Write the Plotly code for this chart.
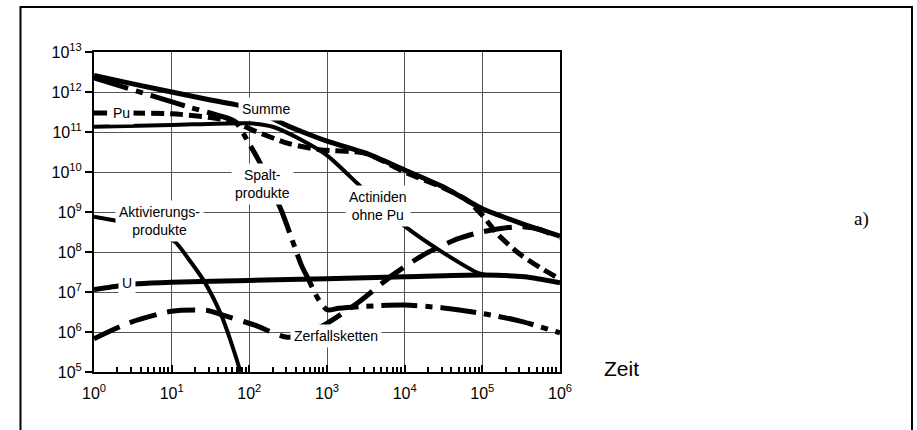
import plotly.graph_objects as go

# ---------------- data (time in years, activity) ----------------
t_summe = [1, 3.16, 10, 31.6, 100, 316, 457, 1000, 3160, 1e4, 3.16e4, 5.6e4, 1e5, 3.16e5, 1e6]
v_summe = [2.6e12, 1.6e12, 1.0e12, 6.3e11, 4.0e11, 1.4e11, 1.05e11, 5.9e10, 2.95e10, 1.12e10, 4.2e9, 2.25e9, 1.2e9, 5.2e8, 2.5e8]

t_spalt = [1, 2.5, 6.2, 16.6, 40, 66, 100, 132, 263, 468, 575, 760, 1000, 1410, 3160, 1e4, 3.16e4, 1e5, 3.16e5, 1e6]
v_spalt = [2.25e12, 1.3e12, 7.6e11, 4.2e11, 2.6e11, 1.8e11, 5.0e10, 1.95e10, 1.0e9, 4.7e7, 2.1e7, 7.0e6, 3.6e6, 3.9e6, 4.4e6, 4.7e6, 4.0e6, 2.9e6, 1.85e6, 9.5e5]

t_pu = [1, 10, 31.6, 63, 112, 316, 800, 3160, 1e4, 3.16e4, 6.3e4, 1e5, 1.6e5, 3.0e5, 5.6e5, 1e6]
v_pu = [3.0e11, 2.85e11, 2.3e11, 1.8e11, 1.1e11, 5.2e10, 3.6e10, 2.9e10, 1.0e10, 4.0e9, 2.0e9, 8.3e8, 2.7e8, 9.0e7, 4.0e7, 2.1e7]

t_actin = [1, 10, 100, 200, 457, 1000, 2500, 5000, 1.07e4, 3.16e4, 8.9e4, 1.1e5]
v_actin = [1.35e11, 1.5e11, 1.65e11, 1.35e11, 6.5e10, 2.6e10, 5.0e9, 1.4e9, 4.0e8, 9.5e7, 2.95e7, 2.65e7]

t_u = [1, 2.3, 3.7, 10, 100, 1000, 1e4, 1e5, 3.5e5, 1e6]
v_u = [1.15e7, 1.45e7, 1.6e7, 1.75e7, 1.95e7, 2.15e7, 2.4e7, 2.65e7, 2.4e7, 1.7e7]

t_aktiv = [1, 1.8, 3.16, 5.6, 11, 16.4, 26, 43, 57, 77, 89]
v_aktiv = [7.6e8, 6.2e8, 4.8e8, 3.3e8, 1.8e8, 6.8e7, 1.9e7, 2.8e6, 6.3e5, 1.0e5, 3.5e4]

t_zerf = [1, 2.95, 10, 28.8, 42.7, 115, 309, 560, 1000, 2570, 6900, 1.86e4, 4.9e4, 1e5, 2.95e5, 5.6e5, 1e6]
v_zerf = [6.8e5, 1.75e6, 3.3e6, 3.45e6, 2.75e6, 1.5e6, 7.4e5, 9.5e5, 1.65e6, 5.6e6, 2.6e7, 9.1e7, 2.15e8, 3.2e8, 4.3e8, 3.6e8, 2.2e8]

x_ticks = [1, 10, 100, 1000, 1e4, 1e5, 1e6]
x_ticktext = ["10<sup>0</sup>", "10<sup>1</sup>", "10<sup>2</sup>", "10<sup>3</sup>",
              "10<sup>4</sup>", "10<sup>5</sup>", "10<sup>6</sup>"]
y_ticks = [1e5, 1e6, 1e7, 1e8, 1e9, 1e10, 1e11, 1e12, 1e13]
y_ticktext = ["10<sup>5</sup>", "10<sup>6</sup>", "10<sup>7</sup>", "10<sup>8</sup>", "10<sup>9</sup>",
              "10<sup>10</sup>", "10<sup>11</sup>", "10<sup>12</sup>", "10<sup>13</sup>"]

# ---------------- figure ----------------
W, H = 917, 430
L, R, T, B = 94, 560, 52, 372
FONT = "Liberation Sans, Arial, sans-serif"

fig = go.Figure()

def add(t, v, width, dash="solid"):
    fig.add_trace(go.Scatter(x=t, y=v, mode="lines",
                             line=dict(color="black", width=width, dash=dash,
                                       shape="spline", smoothing=0.7),
                             hoverinfo="skip"))

add(t_zerf, v_zerf, 5, "28px,11px")
add(t_u, v_u, 5)
add(t_aktiv, v_aktiv, 4)
add(t_actin, v_actin, 4)
add(t_spalt, v_spalt, 5, "36px,8px,7px,8px")
add(t_pu, v_pu, 5, "13px,6px")
add(t_summe, v_summe, 5)

def px(xp):
    return (xp - L) / (R - L)

def py(yp):
    return (B - yp) / (B - T)

labels = [
    ("Summe", 266, 109),
    ("Pu", 121, 113),
    ("Spalt-<br>produkte", 262, 184),
    ("Aktivierungs-<br>produkte", 159, 221),
    ("Actiniden<br>ohne Pu", 378, 206),
    ("U", 127, 283),
    ("Zerfallsketten", 336, 336),
]
for txt, xp, yp in labels:
    fig.add_annotation(text=txt, x=px(xp), y=py(yp), xref="paper", yref="paper",
                       showarrow=False, bgcolor="white", borderpad=3,
                       font=dict(family=FONT, size=14, color="black"),
                       xanchor="center", yanchor="middle")

fig.add_annotation(text="Zeit", x=px(621), y=py(368), xref="paper", yref="paper",
                   showarrow=False, font=dict(family=FONT, size=21, color="black"),
                   xanchor="center", yanchor="middle")
fig.add_annotation(text="a)", x=px(861), y=py(219), xref="paper", yref="paper",
                   showarrow=False,
                   font=dict(family="Liberation Serif, Times New Roman, serif", size=19, color="black"),
                   xanchor="center", yanchor="middle")

# outer frame
fig.add_shape(type="rect", xref="paper", yref="paper",
              x0=px(20.5), x1=px(912), y0=py(440), y1=py(7),
              line=dict(color="black", width=2), fillcolor="rgba(0,0,0,0)", layer="above")

fig.update_xaxes(type="log", range=[0, 6], tickvals=x_ticks, ticktext=x_ticktext,
                 showgrid=True, gridcolor="#555", gridwidth=1,
                 showline=True, linecolor="black", linewidth=2, mirror=True,
                 ticks="inside", ticklen=7, tickcolor="black", tickwidth=2,
                 ticklabelstandoff=6,
                 minor=dict(ticks="inside", ticklen=5, tickcolor="black", tickwidth=1.5,
                            dtick="D1", showgrid=False),
                 tickfont=dict(family=FONT, size=16, color="black"), zeroline=False)
fig.update_yaxes(type="log", range=[5, 13], tickvals=y_ticks, ticktext=y_ticktext,
                 showgrid=True, gridcolor="#555", gridwidth=1,
                 showline=True, linecolor="black", linewidth=2, mirror=True,
                 ticks="outside", ticklen=7, tickcolor="black", tickwidth=2,
                 tickfont=dict(family=FONT, size=16, color="black"), zeroline=False)

fig.update_layout(width=W, height=H, margin=dict(l=L, r=W - R, t=T, b=H - B, pad=0),
                  plot_bgcolor="white", paper_bgcolor="white", showlegend=False)

fig.write_html("out.html")
